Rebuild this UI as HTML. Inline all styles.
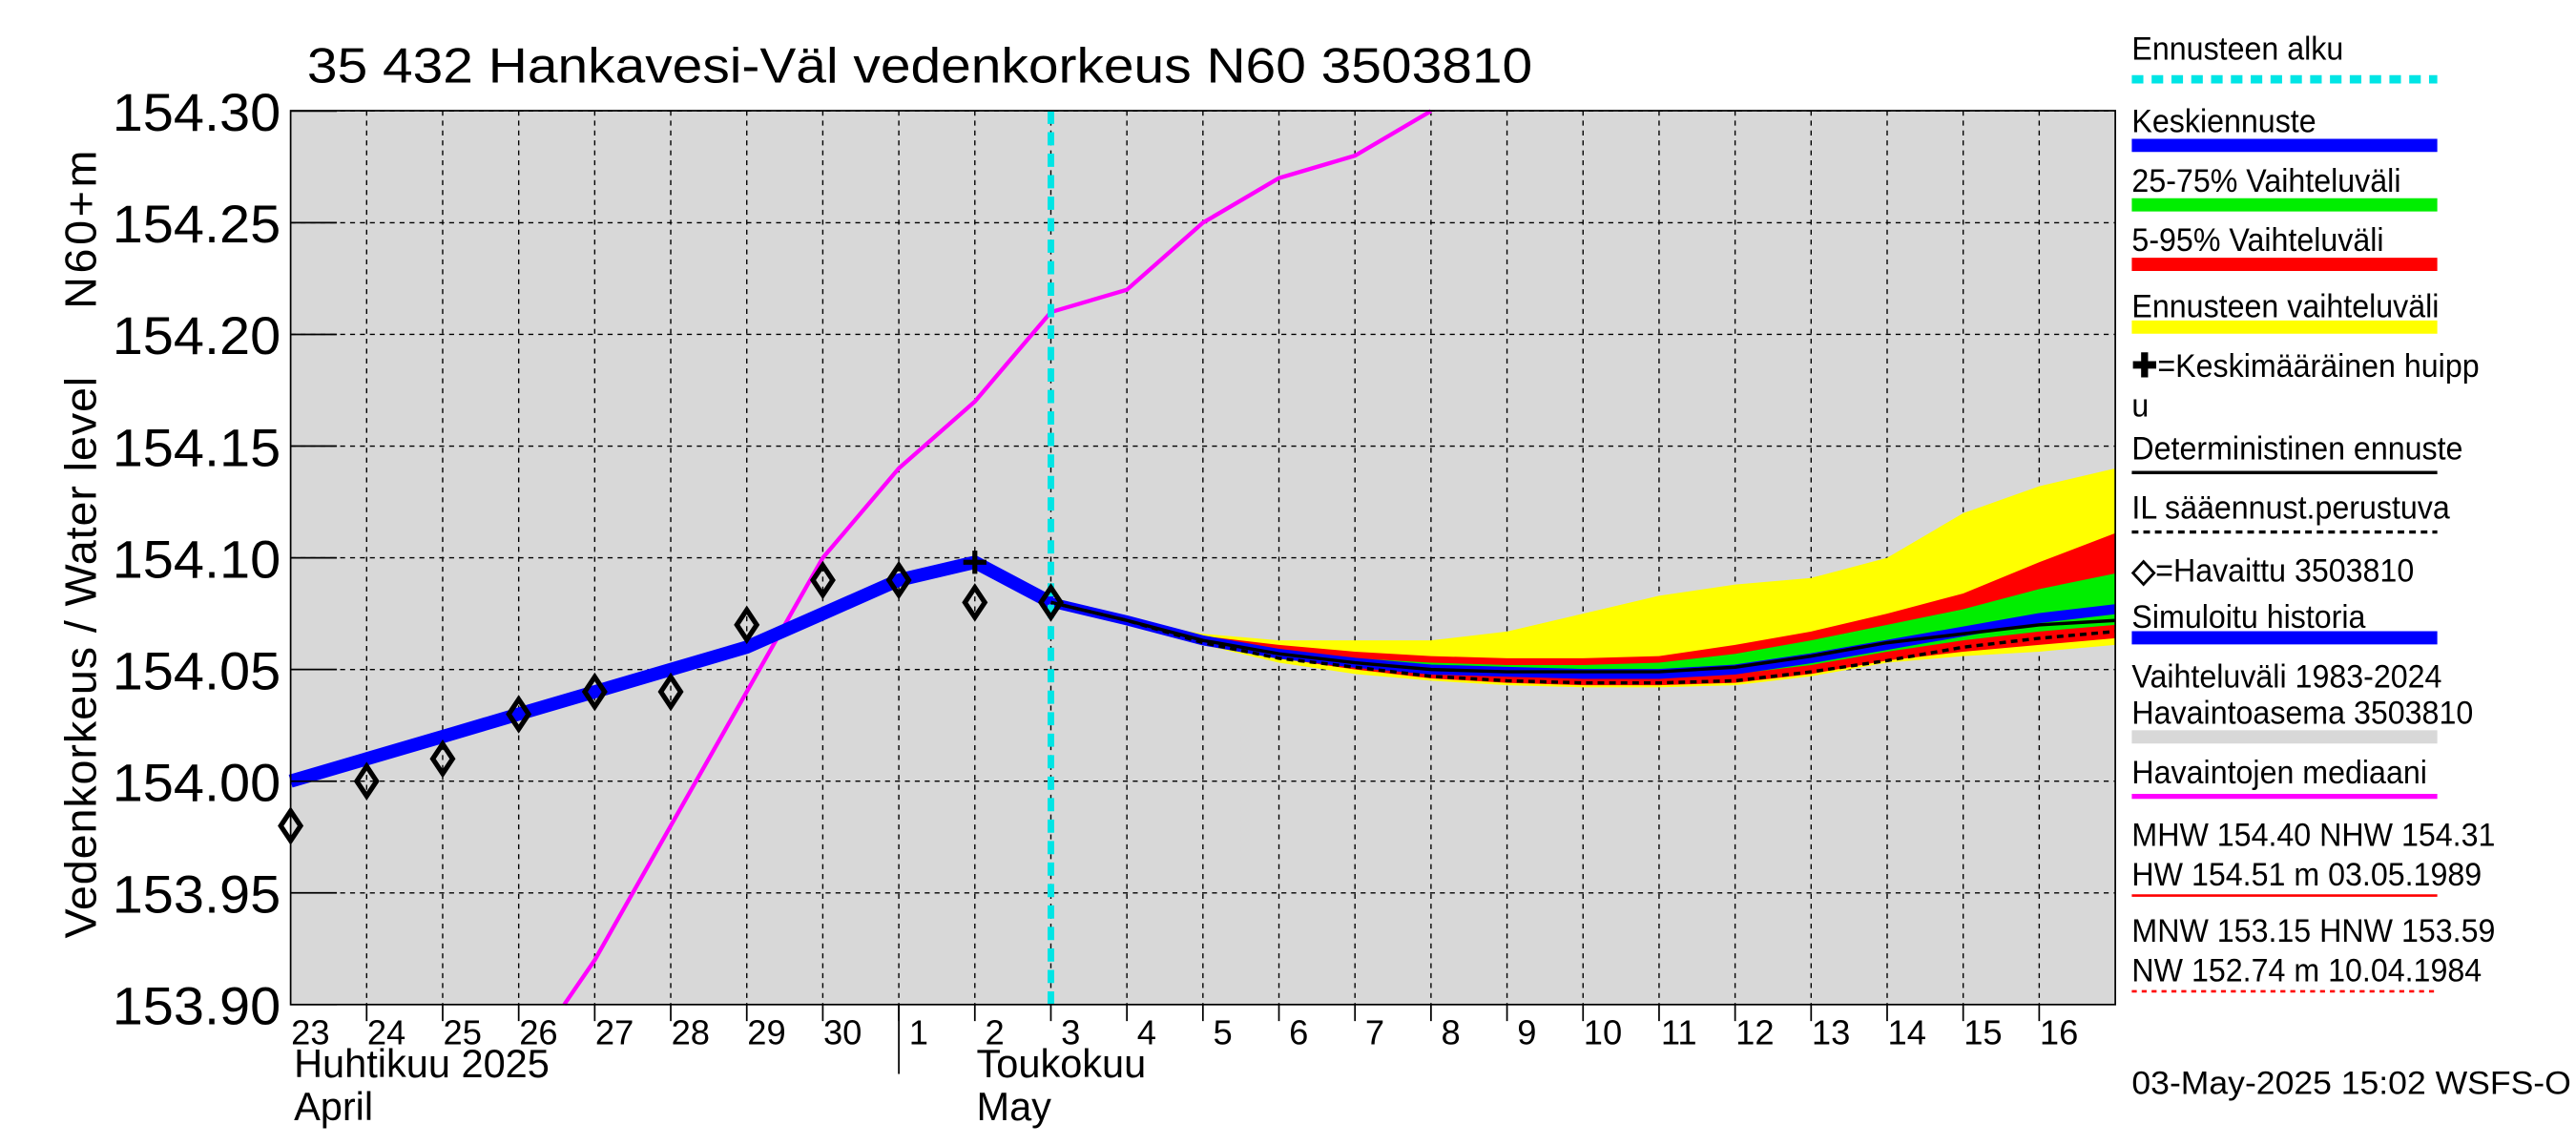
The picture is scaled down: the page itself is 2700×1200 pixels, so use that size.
<!DOCTYPE html>
<html><head><meta charset="utf-8"><style>
html,body{margin:0;padding:0;background:#fff;}
svg{display:block;font-family:"Liberation Sans",sans-serif;}
</style></head><body>
<svg id="c" width="2700" height="1200" viewBox="0 0 1560 693" preserveAspectRatio="none" xmlns="http://www.w3.org/2000/svg">
<rect x="0" y="0" width="1560" height="693" fill="#fff"/>
<rect x="176" y="67" width="1105" height="541" fill="#d8d8d8"/>
<g id="grid"></g>
<g id="bands"></g>
<g id="lines"></g>
<g id="axes"></g>
<text x="186" y="50" font-size="30" textLength="742" lengthAdjust="spacingAndGlyphs">35 432 Hankavesi-Väl vedenkorkeus N60 3503810</text>
<text transform="translate(58,568) rotate(-90)" font-size="27" textLength="340" lengthAdjust="spacing">Vedenkorkeus / Water level</text>
<text transform="translate(58,187) rotate(-90)" font-size="27" textLength="96" lengthAdjust="spacing">N60+m</text>
<g id="legend"></g>
<text x="1291" y="662" font-size="20" textLength="266" lengthAdjust="spacingAndGlyphs">03-May-2025 15:02 WSFS-O</text>
</svg>
<script>
const yTicks=[153.90,153.95,154.00,154.05,154.10,154.15,154.20,154.25,154.30];
const dayLabels=["23","24","25","26","27","28","29","30","1","2","3","4","5","6","7","8","9","10","11","12","13","14","15","16"];
const obsT=[0,1,2,3,4,5,6,7,8,9,10];
const obsV=[153.98,154.00,154.01,154.03,154.04,154.04,154.07,154.09,154.09,154.08,154.08];
const simT=[0,1,2,3,4,5,6,7,8,9,10];
const simV=[154.00,154.01,154.02,154.03,154.04,154.05,154.06,154.075,154.09,154.098,154.08];
const medT=[3.6,4,5,6,7,8,9,10,11,12,13,14,15];
const medV=[153.90,153.92,153.98,154.04,154.10,154.14,154.17,154.21,154.22,154.25,154.27,154.28,154.30];
const fT=[10,11,12,13,14,15,16,17,18,19,20,21,22,23,24];
const yelHi=[154.08,154.072,154.066,154.063,154.063,154.063,154.067,154.075,154.083,154.088,154.091,154.100,154.120,154.132,154.140];
const yelLo=[154.08,154.072,154.061,154.053,154.048,154.045,154.043,154.042,154.042,154.043,154.047,154.053,154.056,154.058,154.061];
const redHi=[154.08,154.072,154.065,154.061,154.058,154.056,154.055,154.055,154.056,154.061,154.067,154.075,154.084,154.098,154.111];
const redLo=[154.08,154.072,154.062,154.055,154.050,154.046,154.044,154.043,154.043,154.044,154.048,154.054,154.058,154.061,154.064];
const grnHi=[154.08,154.072,154.064,154.059,154.055,154.053,154.052,154.052,154.053,154.057,154.063,154.070,154.077,154.086,154.093];
const grnLo=[154.08,154.072,154.063,154.056,154.052,154.049,154.047,154.046,154.046,154.048,154.052,154.058,154.063,154.067,154.070];
const meanV=[154.08,154.072,154.063,154.057,154.053,154.050,154.049,154.048,154.048,154.050,154.055,154.061,154.067,154.073,154.077];
const detV=[154.08,154.072,154.063,154.057,154.053,154.050,154.049,154.049,154.049,154.051,154.056,154.062,154.066,154.070,154.072];
const ilV=[154.08,154.072,154.062,154.055,154.051,154.047,154.045,154.044,154.044,154.045,154.049,154.054,154.060,154.064,154.067];
const peakT=9, peakV=154.098, fcStart=10;

const NS="http://www.w3.org/2000/svg";
const X=t=>176+t*46.04;
const Y=v=>608-(v-153.90)/0.05*67.6;
function mk(tag,attrs,parent,txt){const e=document.createElementNS(NS,tag);for(const k in attrs)e.setAttribute(k,attrs[k]);if(txt!==undefined)e.textContent=txt;(typeof parent==='string'?document.getElementById(parent):parent).appendChild(e);return e;}
const pts=(T,V)=>T.map((t,i)=>X(t).toFixed(1)+","+Y(V[i]).toFixed(1)).join(" ");
const band=(hi,lo)=>pts(fT,hi)+" "+pts(fT.slice().reverse(),lo.slice().reverse());

yTicks.forEach(v=>{
  const l=mk('line',{x1:176,x2:1281,y1:Y(v),y2:Y(v),stroke:'#000','stroke-width':0.8,'stroke-dasharray':'3,3'},'grid');
  
  
  const tk=mk('line',{x1:176,x2:204,y1:Y(v),y2:Y(v),stroke:'#000','stroke-width':1},'axes');
  
  
  const t=mk('text',{x:170,y:Y(v)+12,'font-size':32,'text-anchor':'end',textLength:102,lengthAdjust:'spacingAndGlyphs'},'axes',v.toFixed(2));
  
  
});
dayLabels.forEach((d,i)=>{
  if(i>0){const l=mk('line',{x1:X(i),x2:X(i),y1:67,y2:608,stroke:'#000','stroke-width':0.8,'stroke-dasharray':'3,3'},'grid');
  
  
  const tk=mk('line',{x1:X(i),x2:X(i),y1:608,y2:618,stroke:'#000','stroke-width':1},'axes');
  
  }
  const t=mk('text',{x:X(i)+12,y:632,'font-size':21,'text-anchor':'middle'},'axes',d);
  
  
});
{const l=mk('line',{x1:X(8),x2:X(8),y1:608,y2:650,stroke:'#000','stroke-width':1},'axes');

}
[["Huhtikuu  2025",X(0)+2,652],["April",X(0)+2,678],["Toukokuu",X(9)+1,652],["May",X(9)+1,678]].forEach(a=>{
  const t=mk('text',{x:a[1],y:a[2],'font-size':24,'xml:space':'preserve'},'axes',a[0]);
  
  
});
{const f=mk('rect',{x:176,y:67,width:1105,height:541,fill:'none',stroke:'#000','stroke-width':1},'axes');

}

[[yelHi,yelLo,'#ffff00','forecast-range-band'],[redHi,redLo,'#ff0000','band-5-95'],[grnHi,grnLo,'#00ee00','band-25-75']].forEach(b=>{
  const p=mk('polygon',{points:band(b[0],b[1]),fill:b[2]},'bands');
  
  
});
let e;
e=mk('polyline',{points:pts(medT,medV),fill:'none',stroke:'#ff00ff','stroke-width':2.5},'lines');


e=mk('polyline',{points:pts(simT,simV),fill:'none',stroke:'#0000ff','stroke-width':8},'lines');


e=mk('polyline',{points:pts(fT,meanV),fill:'none',stroke:'#0000ff','stroke-width':6},'lines');


e=mk('polyline',{points:pts(fT,detV),fill:'none',stroke:'#000','stroke-width':2},'lines');


e=mk('polyline',{points:pts(fT,ilV),fill:'none',stroke:'#000','stroke-width':2,'stroke-dasharray':'4,3'},'lines');


e=mk('line',{x1:X(fcStart),x2:X(fcStart),y1:67,y2:608,stroke:'#00e5e5','stroke-width':4,'stroke-dasharray':'8,5'},'lines');


obsT.forEach((t,i)=>{
  const x=X(t),y=Y(obsV[i]);
  const d=mk('polygon',{points:`${x},${y-9} ${x+6},${y} ${x},${y+9} ${x-6},${y}`,fill:'none',stroke:'#000','stroke-width':3},'lines');
  
  
});
{const x=X(peakT),y=Y(peakV);
e=mk('path',{d:`M${x-7},${y}H${x+7}M${x},${y-7}V${y+7}`,stroke:'#000','stroke-width':3},'lines');

}

const L=1291;
const leg=[
 ["Ennusteen alku",36,{y:48,c:'#00e5e5',w:5,dash:'7,5'}],
 ["Keskiennuste",80,{y:88,c:'#0000ff',w:8}],
 ["25-75% Vaihteluväli",116,{y:124,c:'#00ee00',w:8}],
 ["5-95% Vaihteluväli",152,{y:160,c:'#ff0000',w:8}],
 ["Ennusteen vaihteluväli",192,{y:198,c:'#ffff00',w:8}],
 ["✚=Keskimääräinen huipp",228,null],
 ["u",252,null],
 ["Deterministinen ennuste",278,{y:286,c:'#000',w:2}],
 ["IL sääennust.perustuva",314,{y:322,c:'#000',w:2,dash:'4,3'}],
 ["◇=Havaittu 3503810",352,null],
 ["Simuloitu historia",380,{y:386,c:'#0000ff',w:8}],
 ["Vaihteluväli 1983-2024",416,null],
 [" Havaintoasema 3503810",438,{y:446,c:'#d8d8d8',w:8}],
 ["Havaintojen mediaani",474,{y:482,c:'#ff00ff',w:3}],
 ["MHW 154.40 NHW 154.31",512,null],
 ["HW 154.51 m 03.05.1989",536,{y:542,c:'#ff0000',w:1.5}],
 ["MNW 153.15 HNW 153.59",570,null],
 ["NW 152.74 m 10.04.1984",594,{y:600,c:'#ff0000',w:1.5,dash:'3,3'}]
];
leg.forEach(r=>{
  const sym=(r[0].startsWith('✚')||r[0].startsWith('◇'));
  const t=mk('text',{x:L,y:r[1],'font-size':20,'xml:space':'preserve','transform':`translate(${L},0) scale(0.93,1) translate(${-L},0)`},'legend',sym?undefined:r[0]);
  if(sym){mk('tspan',{'font-weight':'bold'},t,r[0][0]);mk('tspan',{},t,r[0].slice(1));}
  
  
  if(r[2]){const s=r[2];const a={x1:L,x2:1476,y1:s.y,y2:s.y,stroke:s.c,'stroke-width':s.w};if(s.dash)a['stroke-dasharray']=s.dash;
    const l=mk('line',a,'legend');
    
    }
});
</script>
</body></html>
